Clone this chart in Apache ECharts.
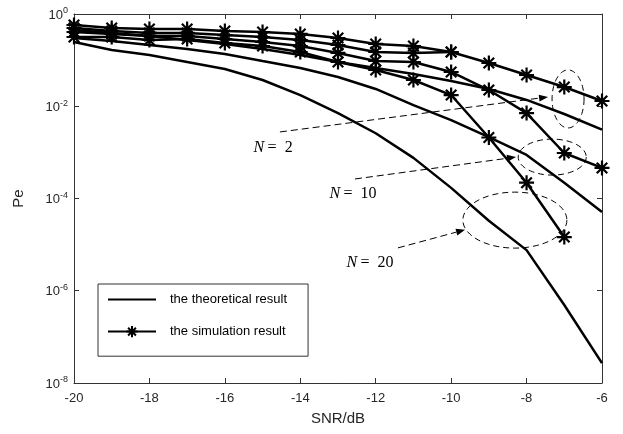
<!DOCTYPE html>
<html>
<head>
<meta charset="utf-8">
<script src="https://cdn.jsdelivr.net/npm/echarts@6/dist/echarts.min.js"></script>
<style>
  html, body { margin: 0; background: #fff; }
  #chart { width: 623px; height: 434px; }
</style>
</head>
<body>
<div id="chart"></div>
<script>
// SNR in dB
const snr = [-20, -19, -18, -17, -16, -15, -14, -13, -12, -11, -10, -9, -8, -7, -6];

// theoretical Pe
const theoryN2 = [0.45, 0.388, 0.334, 0.273, 0.224, 0.174, 0.129, 0.091, 0.0675, 0.05, 0.0353, 0.0237, 0.0137, 0.0068, 0.0031];
const theoryN10 = [0.302, 0.26, 0.213, 0.174, 0.136, 0.0957, 0.0675, 0.0431, 0.0237, 0.0106, 0.005, 0.00215, 0.00088, 0.00022, 0.000051];
const theoryN20 = [0.247, 0.166, 0.129, 0.091, 0.0642, 0.0371, 0.0175, 0.0071, 0.0026, 0.00076, 0.00017, 0.000033, 0.0000076, 4.9e-7, 2.7e-8];

// simulated Pe (shorter lists stop early)
const simN2 = [0.578, 0.497, 0.473, 0.473, 0.428, 0.407, 0.369, 0.302, 0.224, 0.202, 0.15, 0.0867, 0.0476, 0.0261, 0.013];
const simExtra = [0.497, 0.428, 0.388, 0.388, 0.35, 0.317, 0.273, 0.213, 0.15, 0.143, 0.15];
const simN10 = [0.407, 0.369, 0.334, 0.334, 0.287, 0.247, 0.202, 0.143, 0.0957, 0.091, 0.0553, 0.0225, 0.0071, 0.00097, 0.00046];
const simN20 = [0.317, 0.317, 0.273, 0.287, 0.235, 0.202, 0.15, 0.091, 0.0611, 0.0371, 0.0175, 0.0021, 0.00022, 0.0000146];

// annotations: label text, label pos, arrow from/to, ellipse centre (data units) and radii (px)
const notes = [
  { num: "2", label: [-14.72, 0.00124], from: [-14.54, 0.00277], to: [-7.43, 0.0159], centre: [-6.9, 0.0144], r: [16, 29] },
  { num: "10", label: [-12.6, 0.000126], from: [-12.55, 0.000265], to: [-8.28, 0.00079], centre: [-7.32, 0.00079], r: [34, 18] },
  { num: "20", label: [-12.15, 0.000004], from: [-11.41, 0.0000085], to: [-9.63, 0.000021], centre: [-8.31, 0.000034], r: [52, 28] },
];

const THEORY = "the theoretical result";
const SIM = "the simulation result";
const FONT = "Liberation Sans";
const STAR = "path://M10 0L10 20M0 10L20 10M3 3L17 17M3 17L17 3";

const pairs = (arr) => arr.map((v, i) => [snr[i], v]);

function theorySeries(arr) {
  return {
    name: THEORY,
    type: "line",
    data: pairs(arr),
    symbol: "none",
    lineStyle: { color: "#000", width: 2.5 },
    itemStyle: { color: "#000" },
    animation: false,
  };
}

function simSeries(arr) {
  return {
    name: SIM,
    type: "line",
    data: pairs(arr),
    symbol: STAR,
    symbolSize: 15,
    symbolKeepAspect: true,
    lineStyle: { color: "#000", width: 2.5 },
    itemStyle: { color: "#000", borderColor: "#000", borderWidth: 2.2 },
    animation: false,
  };
}

const chart = echarts.init(document.getElementById("chart"));

const axisLine = { show: true, lineStyle: { color: "#333", width: 1 } };
const tick = { show: true, inside: true, length: 5, lineStyle: { color: "#333" } };

chart.setOption({
  backgroundColor: "#fff",
  animation: false,
  grid: { left: 74, right: 21, top: 14, bottom: 51 },
  legend: {
    orient: "vertical",
    left: 98,
    top: 284,
    padding: [9, 21, 18, 9],
    itemWidth: 48,
    itemHeight: 14,
    itemGap: 19,
    borderColor: "#333",
    borderWidth: 1,
    selectedMode: false,
    data: [
      { name: THEORY, itemStyle: { opacity: 0 } },
      { name: SIM },
    ],
    textStyle: { fontFamily: FONT, fontSize: 13, color: "#000", padding: [0, 0, 0, 9] },
  },
  xAxis: [
    {
      type: "value",
      min: -20,
      max: -6,
      interval: 2,
      name: "SNR/dB",
      nameLocation: "middle",
      nameGap: 28,
      nameTextStyle: { fontFamily: FONT, fontSize: 15, color: "#262626" },
      axisLine,
      axisTick: tick,
      splitLine: { show: false },
      axisLabel: { fontFamily: FONT, fontSize: 13, color: "#262626", margin: 9 },
    },
    {
      type: "value",
      position: "top",
      min: -20,
      max: -6,
      interval: 2,
      axisLine,
      axisTick: tick,
      splitLine: { show: false },
      axisLabel: { show: false },
    },
  ],
  yAxis: [
    {
      type: "log",
      logBase: 10,
      min: 1e-8,
      max: 1,
      interval: 2,
      name: "Pe",
      nameLocation: "middle",
      nameGap: 48,
      nameTextStyle: { fontFamily: FONT, fontSize: 15, color: "#262626" },
      axisLine,
      axisTick: tick,
      splitLine: { show: false },
      axisLabel: {
        margin: 6,
        formatter: (v) => "{b|10}{e|" + Math.round(Math.log10(v)) + "}",
        rich: {
          b: { fontFamily: FONT, fontSize: 13, color: "#262626", verticalAlign: "bottom", lineHeight: 15 },
          e: { fontFamily: FONT, fontSize: 9, color: "#262626", verticalAlign: "top", lineHeight: 15 },
        },
      },
    },
    {
      type: "log",
      logBase: 10,
      position: "right",
      min: 1e-8,
      max: 1,
      interval: 2,
      axisLine,
      axisTick: tick,
      splitLine: { show: false },
      axisLabel: { show: false },
    },
  ],
  series: [
    theorySeries(theoryN2),
    theorySeries(theoryN10),
    theorySeries(theoryN20),
    simSeries(simN2),
    simSeries(simExtra),
    simSeries(simN10),
    simSeries(simN20),
  ],
});

// dashed ellipses, arrows and N labels
function toPx(p) {
  return chart.convertToPixel({ xAxisIndex: 0, yAxisIndex: 0 }, p);
}

const dash = { stroke: "#000", lineWidth: 1, lineDash: [6, 4], fill: null };
const graphics = [];
notes.forEach((n) => {
  const c = toPx(n.centre);
  const pts = [];
  for (let k = 0; k <= 72; k++) {
    const a = (k / 72) * Math.PI * 2;
    pts.push([c[0] + n.r[0] * Math.cos(a), c[1] + n.r[1] * Math.sin(a)]);
  }
  graphics.push({ type: "polyline", shape: { points: pts }, style: dash, silent: true });

  const f = toPx(n.from);
  const t = toPx(n.to);
  const ang = Math.atan2(t[1] - f[1], t[0] - f[0]);
  const hl = 9, hw = 3.5;
  const bx = t[0] - hl * Math.cos(ang), by = t[1] - hl * Math.sin(ang);
  graphics.push({
    type: "line",
    shape: { x1: f[0], y1: f[1], x2: bx, y2: by },
    style: { stroke: "#000", lineWidth: 1, lineDash: [7, 4] },
    silent: true,
  });
  graphics.push({
    type: "polygon",
    shape: {
      points: [
        [t[0], t[1]],
        [bx - hw * Math.sin(ang), by + hw * Math.cos(ang)],
        [bx + hw * Math.sin(ang), by - hw * Math.cos(ang)],
      ],
    },
    style: { fill: "#000" },
    silent: true,
  });

  const l = toPx(n.label);
  graphics.push({
    type: "text",
    x: l[0],
    y: l[1],
    silent: true,
    style: {
      text: "{i|N} {r|=  " + n.num + "}",
      align: "center",
      verticalAlign: "middle",
      rich: {
        i: { fontFamily: "Liberation Serif", fontStyle: "italic", fontSize: 16, fill: "#000" },
        r: { fontFamily: "Liberation Serif", fontSize: 16, fill: "#000" },
      },
    },
  });
});
chart.setOption({ graphic: { elements: graphics } });
</script>
</body>
</html>
